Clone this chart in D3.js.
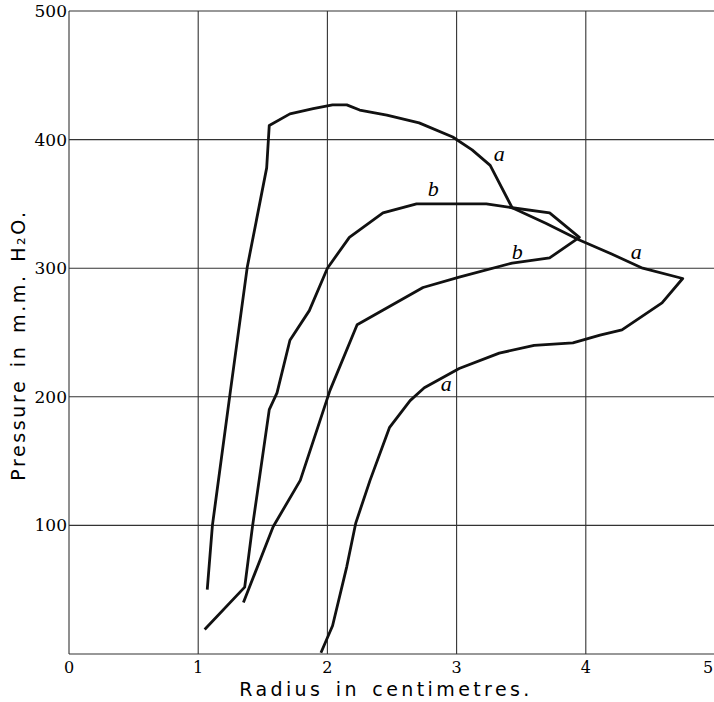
<!DOCTYPE html>
<html>
  <head>
    <meta charset="utf-8">
    <title>Pressure vs Radius</title>
    <style>
      body { margin: 0; background: #fff; }
      svg { display: block; }
    </style>
  </head>
  <body>
    <div id="chart"></div>
    <script src="https://cdn.jsdelivr.net/npm/d3@7"></script>
    <script>
      // curve a (one closed-ish loop)
      var aX = [1.95, 2.04, 2.15, 2.22, 2.33, 2.48, 2.64, 2.75, 3.02, 3.33, 3.60, 3.90, 4.11, 4.28, 4.59, 4.75,
                4.44, 4.20, 3.95, 3.69, 3.43, 3.26, 3.12, 2.97, 2.71, 2.46, 2.25, 2.15, 2.04, 1.89, 1.71, 1.55,
                1.53, 1.38, 1.25, 1.11, 1.07];
      var aY = [1, 22, 68, 102, 135, 176, 197, 207, 222, 234, 240, 242, 248, 252, 273, 292,
                300, 311, 322, 335, 347, 380, 392, 402, 413, 419, 423, 427, 427, 424, 420, 411,
                378, 301, 205, 100, 50];
      // curve b
      var bX = [1.05, 1.36, 1.42, 1.55, 1.61, 1.71, 1.86, 2.0, 2.17, 2.43, 2.69, 3.02, 3.23, 3.43, 3.72, 3.95,
                3.72, 3.43, 3.02, 2.74, 2.23, 2.02, 1.79, 1.58, 1.35];
      var bY = [19, 52, 99, 190, 203, 244, 267, 300, 324, 343, 350, 350, 350, 347, 343, 324,
                308, 304, 293, 285, 256, 205, 135, 99, 40];
      // curve letters
      var labelText = ['a', 'b', 'b', 'a', 'a'];
      var labelX = [3.33, 2.82, 3.47, 4.39, 2.92];
      var labelY = [388, 361, 312, 312, 209];
      var xTicks = [0, 1, 2, 3, 4, 5];
      var xTickLabels = ['0', '1', '2', '3', '4', '5'];
      var yTicks = [100, 200, 300, 400, 500];
      var yTickLabels = ['100', '200', '300', '400', '500'];

      var width = 714, height = 702;
      var svg = d3.select('#chart').append('svg')
        .attr('width', width).attr('height', height);

      var x = d3.scaleLinear().domain([0, 5]).range([69, 715]);
      var y = d3.scaleLinear().domain([0, 500]).range([654, 11]);

      // grid
      var grid = svg.append('g').attr('stroke', '#333').attr('stroke-width', 1.1);
      grid.selectAll('.vx').data(xTicks).enter().append('line')
        .attr('x1', function(d) { return x(d); }).attr('x2', function(d) { return x(d); })
        .attr('y1', y(0)).attr('y2', y(500));
      grid.selectAll('.hy').data([0].concat(yTicks)).enter().append('line')
        .attr('x1', x(0)).attr('x2', x(5))
        .attr('y1', function(d) { return y(d); }).attr('y2', function(d) { return y(d); });

      // tick labels
      svg.selectAll('.xt').data(xTicks).enter().append('text')
        .attr('x', function(d) { return Math.min(x(d), width - 6); })
        .attr('y', y(0) + 19)
        .attr('text-anchor', 'middle')
        .attr('font-family', 'DejaVu Serif, serif')
        .attr('font-size', 16)
        .text(function(d, i) { return xTickLabels[i]; });
      svg.selectAll('.yt').data(yTicks).enter().append('text')
        .attr('x', x(0) - 2)
        .attr('y', function(d) { return y(d) + 6; })
        .attr('text-anchor', 'end')
        .attr('font-family', 'DejaVu Serif, serif')
        .attr('font-size', 17)
        .text(function(d, i) { return yTickLabels[i]; });

      // axis titles
      svg.append('text')
        .attr('x', 386).attr('y', 696)
        .attr('text-anchor', 'middle')
        .attr('font-family', 'DejaVu Sans, sans-serif')
        .attr('font-size', 19)
        .attr('letter-spacing', 3.4)
        .attr('word-spacing', 3)
        .text('Radius in centimetres.');
      svg.append('text')
        .attr('transform', 'translate(25,345) rotate(-90)')
        .attr('text-anchor', 'middle')
        .attr('font-family', 'DejaVu Sans, sans-serif')
        .attr('font-size', 19)
        .attr('letter-spacing', 2.6)
        .attr('word-spacing', 3)
        .text('Pressure in m.m. H\u2082O.');

      // curves
      var line = d3.line()
        .x(function(d) { return x(d[0]); })
        .y(function(d) { return y(d[1]); });
      [[aX, aY], [bX, bY]].forEach(function(c) {
        svg.append('path')
          .datum(d3.zip(c[0], c[1]))
          .attr('d', line)
          .attr('fill', 'none')
          .attr('stroke', '#111')
          .attr('stroke-width', 2.8)
          .attr('stroke-linejoin', 'round');
      });

      svg.selectAll('.lab').data(labelText).enter().append('text')
        .attr('x', function(d, i) { return x(labelX[i]); })
        .attr('y', function(d, i) { return y(labelY[i]) + 6; })
        .attr('text-anchor', 'middle')
        .attr('font-family', 'Liberation Serif, serif')
        .attr('font-style', 'italic')
        .attr('font-size', 22)
        .text(function(d) { return d; });
    </script>
  </body>
</html>
